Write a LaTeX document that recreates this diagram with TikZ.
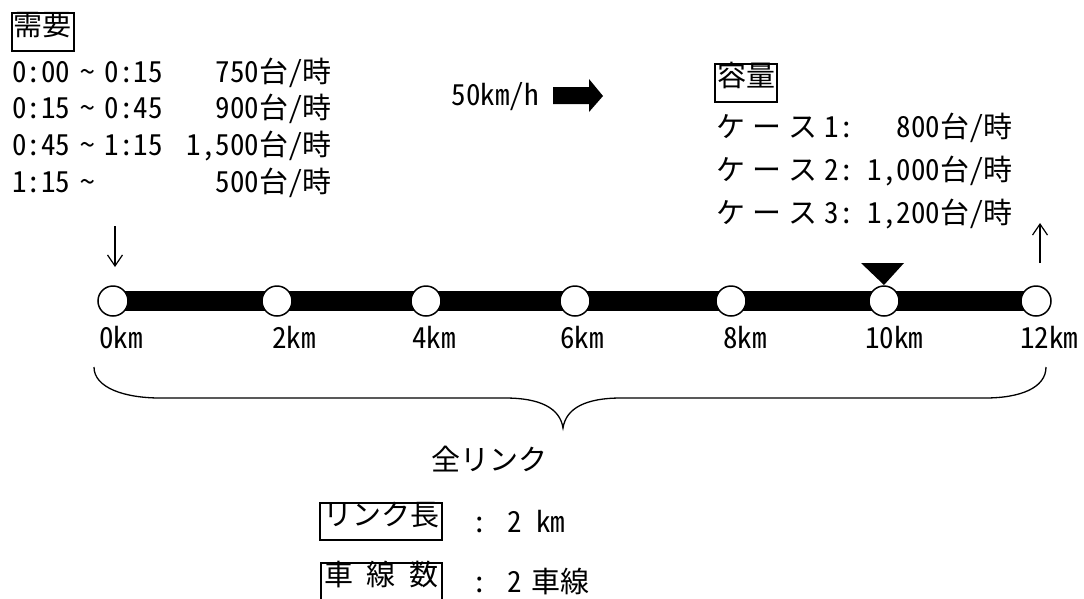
\documentclass[tikz,border=0pt]{standalone}
\usepackage{fontspec}
\setmainfont{Noto Sans CJK JP}[RawFeature=+hwid]
\usetikzlibrary{arrows.meta}
\newcommand\wv{\hspace{10pt}{\char`\~}\hspace{10pt}}
\begin{document}
\begin{tikzpicture}[x=1pt,y=-1pt,
  txt/.style={inner sep=0pt, font=\fontsize{29}{34}\selectfont},
  lbl/.style={txt, anchor=base west},
  lblr/.style={txt, anchor=base east},
  lblc/.style={txt, anchor=base},
  boxed/.style={txt, draw, line width=2pt, text height=0.88em, text depth=0.12em},
  stn/.style={circle, draw, line width=1.5pt, fill=white, minimum size=30pt, inner sep=0pt},
  thinarrow/.style={line width=1.2pt, -{Straight Barb[length=11pt,width=15pt,line width=1.2pt]}}]
\useasboundingbox (0,0) rectangle (1084,598);

% demand block
\node[boxed, minimum width=62pt, minimum height=38pt] (dem) at (42.5,32) {需要};
\node[lbl] (d1l) at (12,82) {0:00\wv 0:15};
\node[lblr] (d1r) at (332,82) {750台/時};
\node[lbl] (d2l) at (12,118) {0:15\wv 0:45};
\node[lblr] (d2r) at (332,118) {900台/時};
\node[lbl] (d3l) at (12,155) {0:45\wv 1:15};
\node[lblr] (d3r) at (332,155) {1,500台/時};
\node[lbl] (d4l) at (12,192) {1:15\wv};
\node[lblr] (d4r) at (332,192) {500台/時};

% speed
\node[lblr] (spd) at (539,105) {50km/h};
\fill (553,87) -- (589,87) -- (589,79) -- (603,96) -- (589,112) -- (589,104) -- (553,104) -- cycle;

% capacity block
\node[boxed, minimum width=62pt, minimum height=38pt] (cap) at (746,83) {容量};
\node[lbl] (c1l) at (716,137) {ケ\hspace{7pt}ー\hspace{7pt}ス\hspace{7pt}1};
\node[lblc] (c1c) at (847,137) {:};
\node[lblr] (c1r) at (1013,137) {800台/時};
\node[lbl] (c2l) at (716,180) {ケ\hspace{7pt}ー\hspace{7pt}ス\hspace{7pt}2};
\node[lblc] (c2c) at (847,180) {:};
\node[lblr] (c2r) at (1013,180) {1,000台/時};
\node[lbl] (c3l) at (716,223) {ケ\hspace{7pt}ー\hspace{7pt}ス\hspace{7pt}3};
\node[lblc] (c3c) at (847,223) {:};
\node[lblr] (c3r) at (1013,223) {1,200台/時};

% road
\coordinate (p0) at (113,301);
\coordinate (p1) at (277,301);
\coordinate (p2) at (426,301);
\coordinate (p3) at (575,301);
\coordinate (p4) at (731,301);
\coordinate (p5) at (884,301);
\coordinate (p6) at (1036,301);
\draw[line width=20pt] (p0) -- (p6);
\foreach \i in {0,...,6} \node[stn] (s\i) at (p\i) {};

% bottleneck marker
\fill (861,263) -- (904,263) -- (884,285) -- cycle;

% in / out arrows
\coordinate (inTop) at (115,226);
\coordinate (inBot) at (115,267);
\draw[thinarrow] (inTop) -- (inBot);
\coordinate (outBot) at (1040,263);
\coordinate (outTop) at (1040,223);
\draw[thinarrow] (outBot) -- (outTop);

% km labels
\node[lbl] (k0) at (99,348) {0km};
\node[lbl] (k1) at (272,348) {2km};
\node[lbl] (k2) at (412,348) {4km};
\node[lbl] (k3) at (560,348) {6km};
\node[lbl] (k4) at (723,348) {8km};
\node[lbl] (k5) at (865,348) {10km};
\node[lbl] (k6) at (1020,348) {12km};

% brace
\draw[line width=1.3pt] (94,367) .. controls (94,388) and (125,398) .. (160,398) -- (505,398)
  .. controls (540,398) and (560,408) .. (563,428)
  .. controls (566,408) and (586,398) .. (621,398) -- (985,398)
  .. controls (1020,398) and (1046,388) .. (1046,367);

\node[lblc] (all) at (489,470) {全リンク};

% link attributes
\node[boxed, minimum width=122pt, minimum height=37pt] (len) at (381,521.5) {リンク長};
\node[lbl] (lenc) at (472,532) {：};
\node[lbl] (lenv) at (507,532) {2 km};
\node[boxed, minimum width=121pt, minimum height=37pt] (lan) at (381.5,581.5) {車\hspace{14pt}線\hspace{14pt}数};
\node[lbl] (lanc) at (472,592) {：};
\node[lbl] (lanv) at (507,592) {2\hspace{10pt}車線};
\end{tikzpicture}
\end{document}
